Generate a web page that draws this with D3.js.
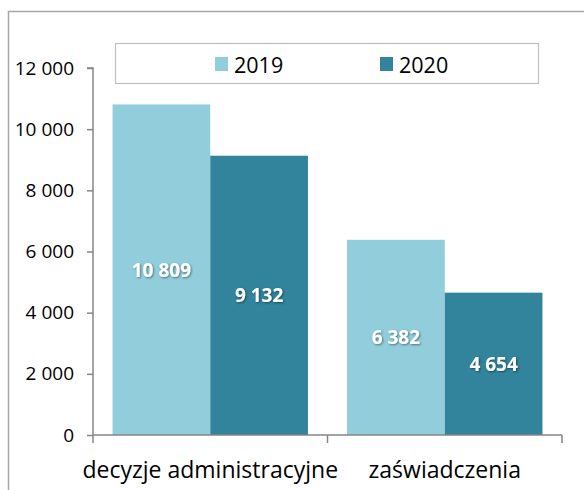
<!DOCTYPE html>
<html>
<head>
<meta charset="utf-8">
<script src="https://cdn.jsdelivr.net/npm/d3@7"></script>
<style>
  html, body { margin: 0; padding: 0; background: #fff; }
  svg { display: block; }
</style>
</head>
<body>
<svg id="chart" width="584" height="490"></svg>
<script>
const categories = ["decyzje administracyjne", "zaświadczenia"];
const seriesNames = ["2019", "2020"];
const values2019 = [10809, 6382];
const values2020 = [9132, 4654];
const yTicks = [0, 2000, 4000, 6000, 8000, 10000, 12000];
const colors = ["#92CDDC", "#31849B"];

const series = [values2019, values2020];
const svg = d3.select("#chart");
const FONT = "'Open Sans', sans-serif";

// outer chart frame (extends past viewport right/bottom)
svg.append("rect")
  .attr("x", 8.5).attr("y", 11.5)
  .attr("width", 600).attr("height", 500)
  .attr("fill", "none").attr("stroke", "#a6a6a6").attr("stroke-width", 1.5);

const x0 = 93, x1 = 562, y0 = 435, y1 = 68;
const x = d3.scaleBand().domain(categories).range([x0, x1]).paddingInner(0).paddingOuter(0);
const y = d3.scaleLinear().domain([0, 12000]).range([y0, y1]);
const fmt = v => d3.format(",")(v).replace(/,/g, " ");

// bars: Excel gap width 40%
const inner = d3.scaleBand().domain(seriesNames)
  .range([0, x.bandwidth()]).paddingOuter(0.2).paddingInner(0);

const defs = svg.append("defs");
const filt = defs.append("filter").attr("id", "shadow").attr("x", "-20%").attr("y", "-20%").attr("width", "140%").attr("height", "140%");
filt.append("feDropShadow").attr("dx", 1).attr("dy", 1).attr("stdDeviation", 0.8)
  .attr("flood-color", "#000").attr("flood-opacity", 0.45);

seriesNames.forEach((s, si) => {
  categories.forEach((c, ci) => {
    const v = series[si][ci];
    svg.append("rect")
      .attr("x", x(c) + inner(s)).attr("y", y(v))
      .attr("width", inner.bandwidth()).attr("height", y(0) - y(v))
      .attr("fill", colors[si]);
  });
});

// labels
seriesNames.forEach((s, si) => {
  categories.forEach((c, ci) => {
    const v = series[si][ci];
    svg.append("text")
      .attr("x", x(c) + inner(s) + inner.bandwidth() / 2).attr("y", (y(v) + y(0)) / 2)
      .attr("text-anchor", "middle").attr("dominant-baseline", "central")
      .attr("font-family", FONT).attr("font-weight", "bold").attr("font-size", 19)
      .attr("fill", "#fff").attr("filter", "url(#shadow)")
      .text(fmt(v));
  });
});

// y axis
const yAxis = d3.axisLeft(y).tickValues(yTicks).tickSize(6).tickPadding(13).tickFormat(fmt);
const gy = svg.append("g").attr("transform", `translate(${x0},0)`).call(yAxis);
gy.select(".domain").attr("stroke", "#868686").attr("stroke-width", 1.5).attr("d", `M-6,${y1}H0V${y0}`);
gy.selectAll(".tick line").attr("stroke", "#868686").attr("stroke-width", 1.5);
gy.selectAll(".tick text").attr("font-family", FONT).attr("font-size", 19).attr("fill", "#000");

// x axis
const xAxis = d3.axisBottom(x).tickSize(0).tickPadding(27);
const gx = svg.append("g").attr("transform", `translate(0,${y0})`).call(xAxis);
gx.select(".domain").attr("stroke", "#868686").attr("stroke-width", 1.5).attr("d", `M${x0},0H${x1}`);
gx.selectAll(".tick text").attr("font-family", FONT).attr("font-size", 23).attr("fill", "#000");
const sepPos = [x0, x0 + x.bandwidth(), x1];
gx.selectAll("line.sep").data(sepPos).enter().append("line")
  .attr("class", "sep").attr("x1", d => d).attr("x2", d => d)
  .attr("y1", 0).attr("y2", 8).attr("stroke", "#868686").attr("stroke-width", 1.5);

// legend
const lg = svg.append("g");
lg.append("rect").attr("x", 115.5).attr("y", 43.5).attr("width", 423).attr("height", 40)
  .attr("fill", "#fff").attr("stroke", "#bfbfbf").attr("stroke-width", 1.2);
const legX = [215, 380];
seriesNames.forEach((s, i) => {
  lg.append("rect").attr("x", legX[i]).attr("y", 57).attr("width", 13).attr("height", 14).attr("fill", colors[i]);
  lg.append("text").attr("x", legX[i] + 19).attr("y", 64).attr("dominant-baseline", "central")
    .attr("font-family", FONT).attr("font-size", 21.5).attr("fill", "#000").text(s);
});
</script>
</body>
</html>
